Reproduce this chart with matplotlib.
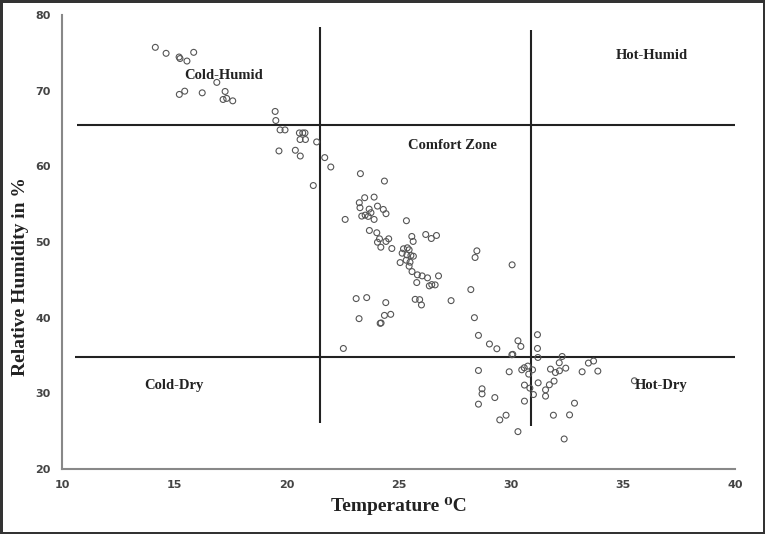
import numpy as np
import matplotlib
matplotlib.use('Agg')
import matplotlib.pyplot as plt

# temperature (deg C) and relative humidity (%)
temp = [14.16, 14.64, 15.22, 15.26, 15.57, 15.87, 16.90, 15.47, 15.23, 16.25, 17.27, 17.18, 17.34, 17.61,
        19.50, 19.53, 19.72, 19.94, 20.58, 20.73, 20.83, 20.61, 20.85, 21.35, 19.67, 20.40, 20.62, 21.71, 21.98, 21.20,
        23.30, 24.37, 23.49, 23.91, 23.25, 23.28, 23.69, 24.06, 24.32, 24.44, 23.77, 23.36, 23.51, 23.65, 23.91, 22.62,
        25.35, 23.70, 24.03, 24.15, 24.06, 24.21, 24.44, 24.56, 24.70, 25.59, 25.65, 26.21, 26.46, 26.69,
        25.39, 25.22, 25.47, 25.16, 25.37, 25.55, 25.66, 25.07, 25.34, 25.51, 25.47, 25.60, 25.84, 26.05, 26.29, 26.78,
        25.81, 26.37, 26.48, 26.63, 23.11, 23.58, 25.74, 27.34, 24.43, 25.94, 26.02, 23.24, 24.37, 24.65, 24.18, 24.22, 22.54,
        28.49, 28.41, 30.06, 28.22, 28.38, 28.56, 29.05, 29.38, 30.32, 30.45, 31.19, 31.19, 30.05, 30.09, 31.21,
        32.29, 32.16, 33.46, 33.69, 28.56, 29.93, 30.49, 30.60, 30.76, 30.97, 30.80, 31.77, 31.99, 32.17, 32.45,
        33.18, 33.88, 35.51, 28.72, 28.72, 29.29, 28.56, 30.61, 30.85, 31.01, 31.22, 31.55, 31.72, 31.93, 31.55,
        30.61, 32.84, 29.79, 29.51, 31.90, 32.62, 30.32, 32.38]
humidity = [75.72, 74.93, 74.44, 74.24, 73.91, 75.06, 71.09, 69.93, 69.50, 69.71, 69.89, 68.83, 68.97, 68.65,
            67.25, 66.05, 64.81, 64.81, 64.41, 64.41, 64.41, 63.54, 63.54, 63.22, 62.03, 62.12, 61.36, 61.15, 59.91, 57.46,
            59.03, 58.05, 55.85, 55.93, 55.19, 54.53, 54.34, 54.74, 54.30, 53.74, 53.87, 53.42, 53.55, 53.38, 52.98, 52.98,
            52.81, 51.52, 51.22, 50.42, 49.97, 49.31, 50.07, 50.42, 49.14, 50.73, 50.07, 50.99, 50.46, 50.86,
            49.23, 49.10, 48.97, 48.52, 48.30, 48.21, 48.12, 47.28, 47.59, 47.33, 46.80, 46.09, 45.66, 45.52, 45.26, 45.52,
            44.64, 44.20, 44.37, 44.33, 42.52, 42.65, 42.42, 42.25, 41.99, 42.38, 41.68, 39.87, 40.30, 40.44, 39.25, 39.30, 35.93,
            48.83, 47.95, 46.98, 43.71, 40.00, 37.66, 36.52, 35.89, 36.95, 36.20, 37.75, 35.93, 35.10, 35.15, 34.74,
            34.87, 34.04, 34.00, 34.27, 33.02, 32.85, 33.11, 33.38, 33.60, 33.11, 32.54, 33.20, 32.75, 32.98, 33.33,
            32.85, 32.94, 31.66, 30.60, 29.93, 29.44, 28.57, 31.09, 30.69, 29.84, 31.39, 30.46, 31.13, 31.62, 29.63,
            28.97, 28.70, 27.11, 26.49, 27.11, 27.15, 24.94, 23.97]

# zone boundaries
hum_limits = [65.4, 34.8]
temp_limits = [21.5, 30.9]
zone_names = ['Cold-Humid', 'Hot-Humid', 'Comfort Zone', 'Cold-Dry', 'Hot-Dry']
zone_pos = [(17.2, 72.0), (36.3, 74.7), (27.4, 62.8), (15.0, 31.1), (36.7, 31.1)]

serif = ['Liberation Serif', 'DejaVu Serif']

fig = plt.figure(figsize=(7.65, 5.34), dpi=100, linewidth=2.5, edgecolor='#333333')
ax = fig.add_axes([0.081, 0.1217, 0.88, 0.8503])

ax.scatter(temp, humidity, s=18, facecolors='none', edgecolors='#555555', linewidths=0.8, zorder=3)

ax.hlines(hum_limits[0], 10.67, 40.3, color='#222222', lw=1.5)
ax.hlines(hum_limits[1], 10.6, 40.3, color='#222222', lw=1.5)
ax.vlines(temp_limits[0], 26.1, 78.4, color='#222222', lw=1.5)
ax.vlines(temp_limits[1], 25.7, 78.0, color='#222222', lw=1.5)

for name, (x, y) in zip(zone_names, zone_pos):
    ax.text(x, y, name, ha='center', va='center', family=serif, fontweight='bold', fontsize=10.5, color='#222222')

ax.set_xlim(10, 40)
ax.set_ylim(20, 80)
ax.set_xticks(np.arange(10, 41, 5))
ax.set_yticks(np.arange(20, 81, 10))
ax.tick_params(length=0, labelsize=8, colors='#444444', pad=8)
for lab in ax.get_xticklabels() + ax.get_yticklabels():
    lab.set_fontweight('bold')
for side in ['top', 'right']:
    ax.spines[side].set_visible(False)
for side in ['left', 'bottom']:
    ax.spines[side].set_color('#888888')
    ax.spines[side].set_linewidth(1.5)
ax.spines['bottom'].set_bounds(10, 40)

ax.set_xlabel('Temperature \u2070C', family=serif, fontweight='bold', fontsize=14, color='#222222', labelpad=5)
ax.set_ylabel('Relative Humidity in %', family=serif, fontweight='bold', fontsize=14, color='#222222')
ax.yaxis.set_label_coords(-0.049, 0.423)

fig.savefig('out.png', dpi=100)
